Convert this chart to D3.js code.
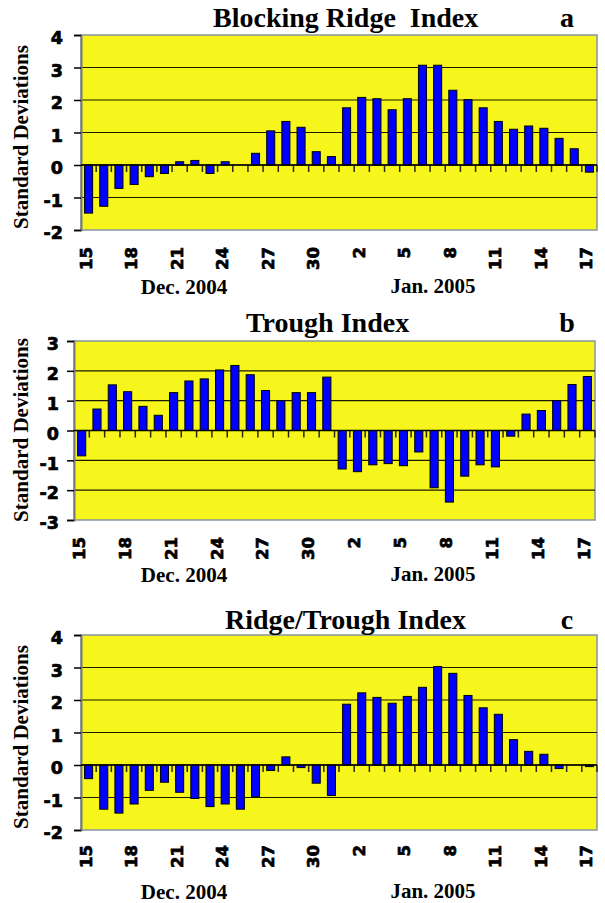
<!DOCTYPE html>
<html lang="en">
<head>
<meta charset="UTF-8">
<title>Blocking Ridge / Trough Index</title>
<style>
  body, html { margin: 0; padding: 0; background: #fff; }
  svg { display: block; }
  .title, .month, .ylab { font-family: "Liberation Serif", "Times New Roman", serif; font-weight: bold; fill: #000; }
  .tick-lab { font-family: "DejaVu Sans", Arial, sans-serif; font-weight: bold; fill: #000; stroke: #000; stroke-width: 0.7px; }
</style>
</head>
<body>
<div id="chart"></div>
<script src="https://d3js.org/d3.v7.min.js"></script>
<script>
// days from 15 Dec 2004 to 17 Jan 2005
const days = ["15","16","17","18","19","20","21","22","23","24","25","26","27","28","29","30","31",
              "1","2","3","4","5","6","7","8","9","10","11","12","13","14","15","16","17"];
const shownEvery = 3;

const blocking = [-1.48,-1.27,-0.72,-0.60,-0.36,-0.26,0.10,0.14,-0.26,0.10,0,0.36,1.05,1.34,1.16,0.41,0.26,
                  1.76,2.08,2.04,1.70,2.04,3.07,3.07,2.30,2.01,1.76,1.34,1.10,1.20,1.13,0.82,0.50,-0.22];
const trough = [-0.85,0.72,1.53,1.30,0.81,0.51,1.27,1.66,1.73,2.03,2.18,1.87,1.34,1.00,1.27,1.27,1.79,
                -1.29,-1.38,-1.15,-1.11,-1.18,-0.72,-1.92,-2.40,-1.53,-1.15,-1.22,-0.19,0.55,0.67,1.00,1.54,1.81];
const ridgeTrough = [-0.42,-1.36,-1.48,-1.20,-0.78,-0.53,-0.84,-1.03,-1.28,-1.20,-1.36,-0.98,-0.17,0.25,-0.08,-0.56,-0.94,
                     1.87,2.22,2.08,1.90,2.11,2.39,3.03,2.82,2.14,1.76,1.56,0.78,0.42,0.33,-0.11,0,-0.05];

const titles = ["Blocking Ridge  Index", "Trough Index", "Ridge/Trough Index"];
const letters = ["a", "b", "c"];
const monthLabels = ["Dec. 2004", "Jan. 2005"];
const yDomains = [[-2, 4], [-3, 3], [-2, 4]];

// layout of each panel (pixels)
const layout = [
  {left: 81, right: 597, top: 35,  bottom: 230, titleX: 213, titleY: 27,  ylabX: 63, xlabY: 247, monthY: 294, sdY: 137},
  {left: 74, right: 595, top: 341, bottom: 520, titleX: 246, titleY: 332, ylabX: 59, xlabY: 537, monthY: 582, sdY: 430},
  {left: 81, right: 597, top: 635, bottom: 830, titleX: 225, titleY: 629, ylabX: 63, xlabY: 845, monthY: 899, sdY: 737}
];
const series = [blocking, trough, ridgeTrough];

const svg = d3.select("#chart").append("svg")
  .attr("width", 605)
  .attr("height", 903);

svg.append("rect").attr("width", 605).attr("height", 903).attr("fill", "#fff");

series.forEach((vals, p) => {
  const L = layout[p];
  const g = svg.append("g");

  const x = d3.scaleBand()
    .domain(d3.range(days.length))
    .range([L.left, L.right])
    .paddingInner(0.47)
    .paddingOuter(0.235);
  const step = (L.right - L.left) / days.length;

  const y = d3.scaleLinear().domain(yDomains[p]).range([L.bottom, L.top]);
  const yTicks = d3.range(yDomains[p][0], yDomains[p][1] + 1);

  // plot area
  g.append("rect")
    .attr("x", L.left).attr("y", L.top)
    .attr("width", L.right - L.left).attr("height", L.bottom - L.top)
    .attr("fill", "#f6f61c")
    .attr("stroke", "#8795a0").attr("stroke-width", 1.5);

  // gridlines
  g.selectAll(".grid").data(yTicks.filter(t => t !== yDomains[p][0] && t !== yDomains[p][1]))
    .join("line")
    .attr("x1", L.left).attr("x2", L.right)
    .attr("y1", d => y(d)).attr("y2", d => y(d))
    .attr("stroke", "#1a1a00").attr("stroke-width", 1.2);

  // left axis
  const yAxis = d3.axisLeft(y).tickValues(yTicks).tickSize(7).tickFormat(d3.format("d"));
  const ax = g.append("g").attr("transform", `translate(${L.left},0)`).call(yAxis);
  ax.select(".domain").attr("stroke", "#7a7a7a").attr("stroke-width", 2);
  ax.selectAll(".tick line").attr("stroke", "#000").attr("stroke-width", 1.5);
  ax.selectAll(".tick text")
    .attr("class", "tick-lab")
    .attr("x", L.ylabX - L.left)
    .attr("dy", "0.5em")
    .attr("font-size", 17.5)
    .text(d => d3.format("d")(d).replace("−", "-"));

  // category boundary ticks on zero line
  g.selectAll(".ctick").data(d3.range(1, days.length + 1))
    .join("line")
    .attr("x1", i => L.left + i * step).attr("x2", i => L.left + i * step)
    .attr("y1", y(0)).attr("y2", y(0) + 7)
    .attr("stroke", "#2a2a00").attr("stroke-width", 1.5);

  // bars
  g.selectAll(".bar").data(vals)
    .join("rect")
    .attr("x", (d, i) => x(i))
    .attr("width", x.bandwidth())
    .attr("y", d => y(Math.max(0, d)))
    .attr("height", d => Math.abs(y(d) - y(0)))
    .attr("fill", "#0000ff")
    .attr("stroke", d => d === 0 ? "none" : "#000")
    .attr("stroke-width", 1);

  // zero line
  g.append("line")
    .attr("x1", L.left).attr("x2", L.right)
    .attr("y1", y(0)).attr("y2", y(0))
    .attr("stroke", "#000").attr("stroke-width", 1.5);

  // x tick labels (rotated)
  g.selectAll(".xlab").data(d3.range(0, days.length, shownEvery))
    .join("text")
    .attr("class", "tick-lab")
    .attr("font-size", 16.5)
    .attr("text-anchor", "end")
    .attr("transform", i => `translate(${x(i) + x.bandwidth() / 2 - 3},${L.xlabY}) rotate(-90)`)
    .attr("dy", "0.36em")
    .text(i => days[i]);

  // month labels
  g.append("text").attr("class", "month").attr("font-size", 21)
    .attr("text-anchor", "middle").attr("x", 184).attr("y", L.monthY).text(monthLabels[0]);
  g.append("text").attr("class", "month").attr("font-size", 21)
    .attr("text-anchor", "middle").attr("x", 433).attr("y", L.monthY - 1).text(monthLabels[1]);

  // y title
  g.append("text").attr("class", "ylab").attr("font-size", 21)
    .attr("text-anchor", "middle")
    .attr("transform", `translate(28,${L.sdY}) rotate(-90)`)
    .text("Standard Deviations");

  // title + panel letter
  g.append("text").attr("class", "title").attr("font-size", 28)
    .style("white-space", "pre")
    .attr("x", L.titleX).attr("y", L.titleY).text(titles[p]);
  g.append("text").attr("class", "title").attr("font-size", 28)
    .attr("text-anchor", "middle")
    .attr("x", 567).attr("y", L.titleY).text(letters[p]);
});
</script>
</body>
</html>
